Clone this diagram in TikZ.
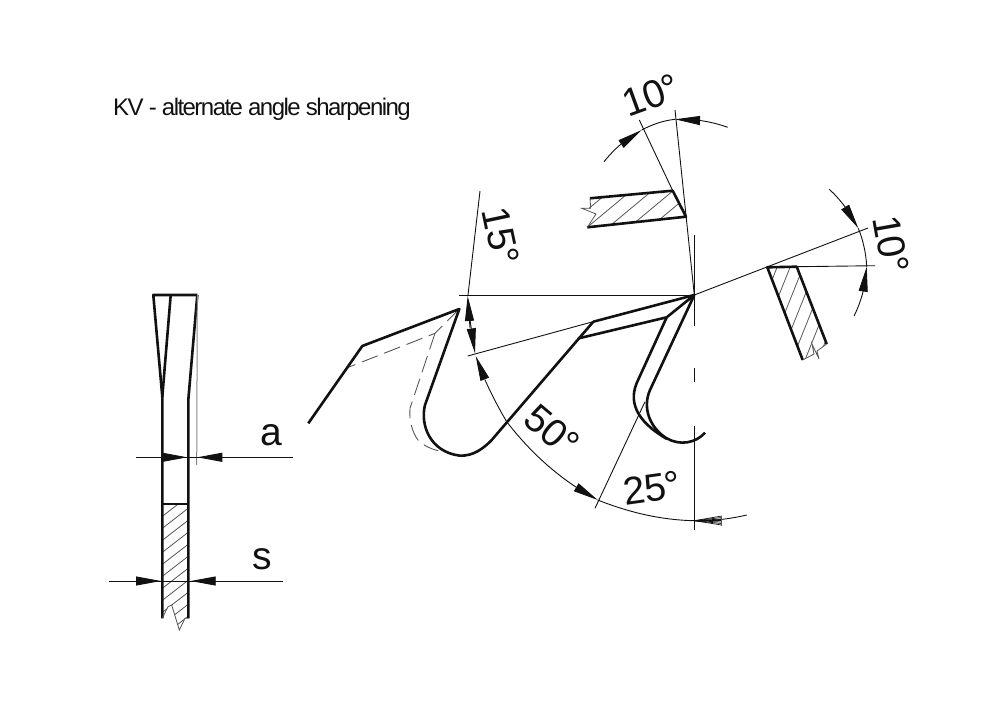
\documentclass[tikz,border=0pt]{standalone}
\usepackage{fontspec}
\setmainfont{Liberation Sans}
\usetikzlibrary{arrows.meta}
\usetikzlibrary{bending}
\definecolor{myink}{HTML}{111111}
\definecolor{mygray}{HTML}{555555}
\tikzset{>={Triangle[length=25pt,width=9pt]}}
\tikzset{toothline/.style={line width=2.6pt, myink, line join=round}}
\tikzset{dimline/.style={line width=0.9pt, myink}}
\tikzset{hatchline/.style={line width=0.8pt, mygray}}
\tikzset{dashline/.style={line width=0.9pt, mygray, dash pattern=on 17pt off 7pt}}
\tikzset{anglabel/.style={font=\fontsize{39}{39}\selectfont\addfontfeature{LetterSpace=-2}, inner sep=0pt, myink}}

\begin{document}
\begin{tikzpicture}[x=1pt,y=-1pt]
	\useasboundingbox (0,0) rectangle (1000,701);
	\node [font=\fontsize{24}{24}\selectfont\addfontfeature{LetterSpace=-6.4}, anchor=base west, inner sep=0pt, myink] (title) at (113,115.5) {KV - alternate angle sharpening};

	\begin{scope}
		\clip (590,198.3) -- (672.7,190.7) -- (686,216.7) -- (587.3,227.3) -- cycle;
		\foreach \hx in {530,551,...,700} \draw [hatchline] (\hx,240) -- ++(72,-60);
	\end{scope}
	\draw [toothline] (590,198.3) -- (672.7,190.7) -- (686,216.7) -- (587.3,227.3);
	\draw [hatchline] (590,198.3) -- (590.7,208.3) -- (581.7,208.3) -- (596,214) -- (587.3,227.3);

	\begin{scope}
		\clip (767.3,267.3) -- (796.7,266.7) -- (826.7,344) -- (802.7,360) -- cycle;
		\foreach \hx in {780,793,...,880} \draw [hatchline] (\hx,260) -- ++(-44,110);
	\end{scope}
	\draw [toothline] (802.7,360) -- (767.3,267.3) -- (796.7,266.7) -- (826.7,344);
	\draw [hatchline] (802.7,360) -- (814,354) -- (812,344) -- (819,359) -- (817,351) -- (826.7,344);

	\draw [dimline] (694.3,235) -- (694.3,326);
	\draw [dimline] (694.3,368) -- (694.3,382);
	\draw [dimline] (694.3,426) -- (694.3,530);
	\draw [dimline] (675,110) -- (694.3,295);
	\draw [dimline] (639.3,120) -- (672.7,190.7);
	\draw [dimline] (694.3,295) -- (868,228);
	\draw [dimline] (796.7,266.7) -- (875,265.7);
	\draw [dimline] (459.3,295) -- (694.3,295);
	\draw [dimline] (480,191) -- (468,295);
	\draw [dimline] (467.7,356) -- (596.7,320.7);
	\draw [dimline] (645,401.7) -- (595,508.3);

	\draw [dimline, ->] (604,161.7) .. controls (615,148) and (628,137) .. (641.7,130);
	\draw [dimline] (641.7,130) .. controls (653,124) and (664,120.5) .. (675,119.3);
	\draw [dimline, ->] (727.7,127.3) .. controls (710,121) and (692,118.5) .. (675,119.3);
	\draw [dimline, ->] (829.3,189.3) .. controls (841,200) and (851,214) .. (858.3,228.3);
	\draw [dimline] (858.3,228.3) .. controls (863,240) and (866,253) .. (866.7,266.7);
	\draw [dimline, ->] (854,316) .. controls (861,302) and (866,285) .. (866.7,266.7);

	\draw [dimline, ->] (470,328) -- (467.7,296);
	\draw [dimline, ->] (470,320) -- (475,353.3);
	\draw [dimline, ->] (506.7,421.7) .. controls (495,402) and (483,378) .. (475.7,356);
	\draw [dimline, ->] (506.7,421.7) .. controls (530,452) and (560,480) .. (597.7,500);
	\draw [dimline] (597.7,500) .. controls (628,512) and (660,520) .. (694.3,520.7);
	\draw [dimline] (694.3,520.7) .. controls (712,521) and (730,519) .. (746.7,515);
	\foreach \hy in {516,517.5,...,525.5} \draw [line width=0.7pt, myink] (694.3,520.7) -- (721.7,\hy);
	\draw [line width=1pt, mygray] (721.7,515.5) -- (721.7,525.5);

	\draw [dashline] (459.3,309) -- (435,333.3) -- (348.3,367.3);
	\draw [dashline] (435,333.3) -- (410,408.3) .. controls (409,420) and (412,432) .. (418,440) .. controls (424,446) and (431,449) .. (438.3,450.7);

	\draw [toothline] (308.3,423.3) -- (362.3,346) -- (459.3,309) -- (425,405) .. controls (420,425) and (430,452) .. (460,455.7) .. controls (473,456) and (483,449) .. (491.7,440) -- (593.3,321.7);
	\draw [toothline] (694.3,295) -- (593.3,321.7);
	\draw [toothline] (578,338.5) -- (666.7,317.3) -- (694.3,295);
	\draw [toothline] (666.7,317.3) -- (637.3,381.7) .. controls (629,400) and (634,420) .. (667,439);
	\draw [toothline] (694.3,295) -- (650,390) .. controls (642,408) and (650,428) .. (666.7,438.3) .. controls (680,446) and (696,443) .. (705,432.7);

	\node [anglabel, rotate=20] (topangle) at (651,95) {10°};
	\node [anglabel, rotate=-78] (rakeangle) at (501,236) {15°};
	\node [anglabel, rotate=-80] (rightangle) at (891,244) {10°};
	\node [anglabel, rotate=-40] (gulletangle) at (552,431) {50°};
	\node [anglabel, rotate=8] (backangle) at (652,488) {25°};

	\begin{scope}
		\clip (162.3,504.3) -- (188.3,504.3) -- (188.3,618.3) -- (185,618.3) -- (179.3,630) -- (171.7,605) -- (168,606.7) -- (162.3,618.3) -- cycle;
		\foreach \hy in {510,522,...,670} \draw [hatchline] (155,\hy) -- ++(40,-31);
	\end{scope}
	\draw [toothline] (197.3,295) -- (153.3,295) -- (162.3,396.7) -- (162.3,618.3);
	\draw [toothline] (170.7,295) -- (162.3,396.7);
	\draw [toothline] (197.3,295) -- (188.3,400) -- (188.3,618.3);
	\draw [line width=2pt, myink] (162.3,504.3) -- (188.3,504.3);
	\draw [hatchline] (162.3,618.3) -- (168,606.7) -- (171.7,605) -- (179.3,630) -- (185,618.3) -- (188.3,618.3);
	\draw [line width=1pt, myink!50] (197.3,295) -- (196.7,465);

	\draw [dimline] (136,457.3) -- (293.3,457.3);
	\draw [dimline, ->] (162.3,457.3) -- (187.3,457.3);
	\draw [dimline, ->] (224,457.3) -- (197.3,457.3);
	\draw [dimline] (109.3,581) -- (282.7,581);
	\draw [dimline, ->] (136,581) -- (161,581);
	\draw [dimline, ->] (215.7,581) -- (190.7,581);
	\node [anglabel, anchor=base] (widtha) at (271,445) {a};
	\node [anglabel, anchor=base] (widths) at (262.3,569) {s};
\end{tikzpicture}
\end{document}
